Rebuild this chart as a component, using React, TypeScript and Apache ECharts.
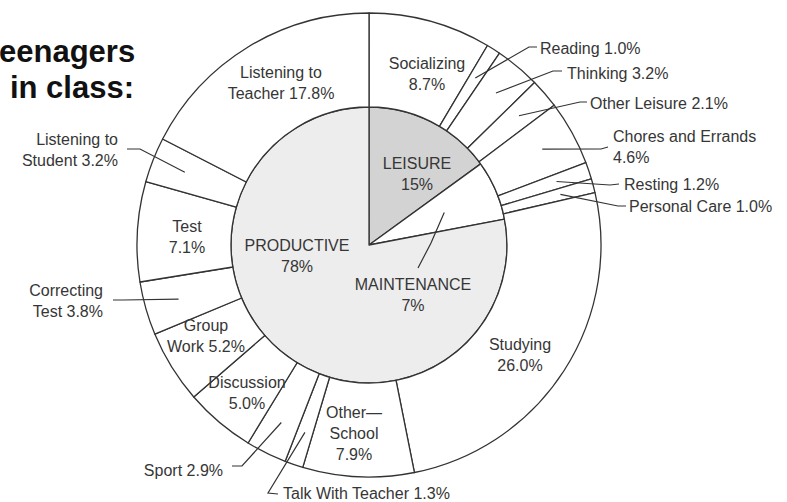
import React, { useEffect, useRef } from 'react';
import * as echarts from 'echarts';

// ---- data ----
const titleLines = ['eenagers', 'in class:'];

const innerCategories = ['LEISURE', 'MAINTENANCE', 'PRODUCTIVE'];
const innerValues = [15, 7, 78];

const outerCategories = [
  'Socializing',
  'Reading',
  'Thinking',
  'Other Leisure',
  'Chores and Errands',
  'Resting',
  'Personal Care',
  'Studying',
  'Other—\nSchool',
  'Talk With Teacher',
  'Sport',
  'Discussion',
  'Group\nWork',
  'Correcting\nTest',
  'Test',
  'Listening to\nStudent',
  'Listening to\nTeacher',
];
const outerValues = [8.7, 1.0, 3.2, 2.1, 4.6, 1.2, 1.0, 26.0, 7.9, 1.3, 2.9, 5.0, 5.2, 3.8, 7.1, 3.2, 17.8];

// ---- layout / style ----
const CX = 369;
const CY = 245;
const R0 = 138;
const R1 = 232;
const FONT = '"Liberation Sans", Arial, Helvetica, sans-serif';
const TEXT = '#363636';
const LINE = '#333333';
const innerColors = ['#d3d3d3', '#ffffff', '#ededed'];

type Pt = [number, number];
type Lay = { x: number; y: number; align: 'left' | 'right' | 'center'; sep: string; r?: number; line?: Pt[] };

const innerLayout: Lay[] = [
  { x: 417, y: 174, align: 'center', sep: '\n' },
  { x: 413, y: 295, align: 'center', sep: '\n', r: 82, line: [[431, 243], [418, 268]] },
  { x: 297, y: 256, align: 'center', sep: '\n' },
];

const outerLayout: Lay[] = [
  { x: 427, y: 74, align: 'center', sep: '\n' },
  { x: 540, y: 48, align: 'left', sep: ' ', r: 198, line: [[529, 47], [537, 47]] },
  { x: 567, y: 73, align: 'left', sep: ' ', r: 198, line: [[553, 71], [562, 71]] },
  { x: 590, y: 103, align: 'left', sep: ' ', r: 198, line: [[580, 102], [587, 102]] },
  { x: 613, y: 147, align: 'left', sep: '\n', r: 198, line: [[601, 149], [608, 147]] },
  { x: 624, y: 184, align: 'left', sep: ' ', r: 198, line: [[610, 185], [619, 184]] },
  { x: 629, y: 206, align: 'left', sep: ' ', r: 198, line: [[618, 206], [626, 206]] },
  { x: 520, y: 355, align: 'center', sep: '\n' },
  { x: 354, y: 433, align: 'center', sep: '\n' },
  { x: 283, y: 493, align: 'left', sep: ' ', r: 198, line: [[268, 493], [278, 494]] },
  { x: 223, y: 470, align: 'right', sep: ' ', r: 198, line: [[242, 466], [232, 466]] },
  { x: 247, y: 393, align: 'center', sep: '\n' },
  { x: 206, y: 336, align: 'center', sep: ' ' },
  { x: 103, y: 301, align: 'right', sep: ' ', r: 198, line: [[123, 300], [113, 300]] },
  { x: 187, y: 237, align: 'center', sep: '\n' },
  { x: 118, y: 150, align: 'right', sep: ' ', r: 198, line: [[140, 149], [127, 149]] },
  { x: 281, y: 83, align: 'center', sep: ' ' },
];

function midPoint(values: number[], i: number, r: number): Pt {
  const sum = values.reduce((a, b) => a + b, 0);
  let cum = 0;
  for (let k = 0; k < i; k++) cum += values[k];
  const a = ((cum + values[i] / 2) / sum) * Math.PI * 2;
  return [CX + r * Math.sin(a), CY - r * Math.cos(a)];
}

function makeLayout(values: number[], lay: Lay[]) {
  return (p: any) => {
    const L = lay[p.dataIndex];
    const out: any = { x: L.x, y: L.y, align: L.align, verticalAlign: 'middle' };
    if (L.line) out.labelLinePoints = [midPoint(values, p.dataIndex, L.r || 0), ...L.line];
    return out;
  };
}

const labelBase = {
  color: TEXT,
  fontSize: 16,
  fontFamily: FONT,
  lineHeight: 21,
  align: 'center',
};

const pieBase = {
  type: 'pie',
  silent: true,
  center: [CX, CY],
  startAngle: 90,
  clockwise: true,
  avoidLabelOverlap: false,
  label: labelBase,
  labelLine: { show: false, lineStyle: { color: LINE, width: 1.2 } },
  emphasis: { disabled: true },
};

// fills + labels placed inside their sector
function fillSeries(names: string[], values: number[], lay: Lay[], radius: number[], colors: string[], fmt: (v: number) => string) {
  return {
    ...pieBase,
    radius,
    itemStyle: { borderColor: LINE, borderWidth: 1.3 },
    data: names.map((n, i) => ({
      name: n,
      value: values[i],
      itemStyle: { color: colors[i] },
      label: { show: !lay[i].line, position: 'inside', formatter: `${n}${lay[i].sep}${fmt(values[i])}` },
    })),
    labelLayout: makeLayout(values, lay),
  };
}

// transparent overlay on top carrying the labels with leader lines
function leaderSeries(names: string[], values: number[], lay: Lay[], radius: number[], fmt: (v: number) => string) {
  return {
    ...pieBase,
    z: 5,
    radius,
    itemStyle: { color: 'rgba(255,255,255,0)', borderWidth: 0 },
    data: names.map((n, i) => ({
      name: n,
      value: values[i],
      label: { show: !!lay[i].line, position: 'outside', formatter: `${n}${lay[i].sep}${fmt(values[i])}` },
      labelLine: { show: !!lay[i].line },
    })),
    labelLayout: makeLayout(values, lay),
  };
}

export default function App() {
  const ref = useRef<HTMLDivElement>(null);
  useEffect(() => {
    if (!ref.current) return;
    const chart = echarts.init(ref.current, undefined, { renderer: 'svg' });
    const fmtInner = (v: number) => `${v}%`;
    const fmtOuter = (v: number) => `${v.toFixed(1)}%`;
    const outerColors = outerValues.map(() => '#ffffff');
    chart.setOption({
      animation: false,
      backgroundColor: '#ffffff',
      graphic: [
        {
          type: 'text',
          x: -1,
          y: 51,
          silent: true,
          style: { text: titleLines[0], font: `bold 31px ${FONT}`, fill: '#111', align: 'left', verticalAlign: 'middle' },
        },
        {
          type: 'text',
          x: 134,
          y: 87,
          silent: true,
          style: { text: titleLines[1], font: `bold 31px ${FONT}`, fill: '#111', align: 'right', verticalAlign: 'middle' },
        },
      ],
      series: [
        fillSeries(innerCategories, innerValues, innerLayout, [0, R0], innerColors, fmtInner),
        fillSeries(outerCategories, outerValues, outerLayout, [R0, R1], outerColors, fmtOuter),
        leaderSeries(innerCategories, innerValues, innerLayout, [0, R0], fmtInner),
        leaderSeries(outerCategories, outerValues, outerLayout, [R0, R1], fmtOuter),
      ],
    });
    return () => chart.dispose();
  }, []);
  return (
    <div
      ref={ref}
      style={{ position: 'absolute', left: 0, top: 0, width: 787, height: 502, background: '#fff' }}
    />
  );
}
